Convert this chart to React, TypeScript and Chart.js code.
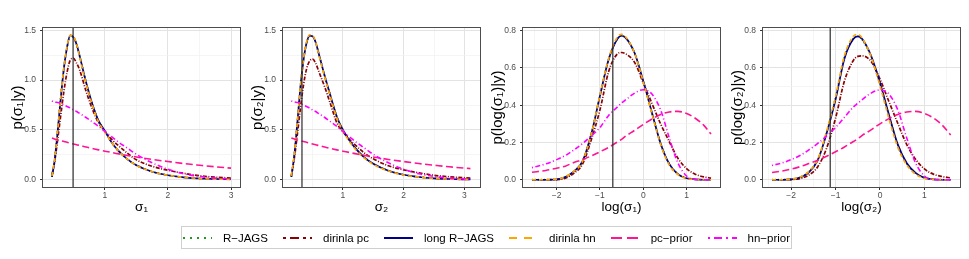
import React, { useEffect, useRef } from "react";
import { Chart, registerables } from "chart.js";
Chart.register(...registerables);

// ---------- data ----------
const SERIES_NAMES = ["R−JAGS", "dirinla pc", "long R−JAGS", "dirinla hn", "pc−prior", "hn−prior"];

// Panel 1: sigma_1
const P1_X = [0.16, 0.2, 0.25, 0.3, 0.35, 0.4, 0.45, 0.5, 0.55, 0.6, 0.7, 0.8, 0.9, 1.0, 1.1, 1.2, 1.35, 1.5, 1.75, 2.0, 2.25, 2.5, 2.75, 3.0];
const P1_RJAGS = [0.03, 0.18, 0.49, 0.83, 1.12, 1.33, 1.44, 1.43, 1.36, 1.24, 0.98, 0.76, 0.59, 0.49, 0.38, 0.3, 0.21, 0.145, 0.08, 0.046, 0.025, 0.013, 0.008, 0.005];
const P1_DIRPC = [0.05, 0.17, 0.4, 0.65, 0.89, 1.08, 1.2, 1.22, 1.17, 1.1, 0.89, 0.71, 0.57, 0.48, 0.41, 0.35, 0.27, 0.2, 0.135, 0.095, 0.065, 0.04, 0.026, 0.017];
const P1_LONG = [0.03, 0.18, 0.48, 0.82, 1.12, 1.33, 1.45, 1.43, 1.36, 1.24, 0.98, 0.76, 0.59, 0.49, 0.38, 0.3, 0.21, 0.145, 0.08, 0.045, 0.025, 0.013, 0.008, 0.005];
const P1_DIRHN = [0.04, 0.19, 0.49, 0.83, 1.13, 1.34, 1.45, 1.44, 1.36, 1.23, 0.97, 0.75, 0.58, 0.48, 0.38, 0.3, 0.21, 0.145, 0.08, 0.045, 0.025, 0.013, 0.007, 0.004];
const P1_PC = [0.42, 0.41, 0.4, 0.392, 0.384, 0.376, 0.367, 0.359, 0.351, 0.344, 0.328, 0.314, 0.3, 0.287, 0.275, 0.262, 0.245, 0.229, 0.204, 0.183, 0.163, 0.146, 0.13, 0.117];
const P1_HN = [0.79, 0.78, 0.775, 0.765, 0.75, 0.735, 0.72, 0.7, 0.685, 0.665, 0.625, 0.58, 0.535, 0.485, 0.435, 0.385, 0.32, 0.255, 0.17, 0.105, 0.06, 0.033, 0.017, 0.008];

// Panel 2: sigma_2
const P2_X = [0.15, 0.2, 0.25, 0.3, 0.35, 0.4, 0.45, 0.5, 0.55, 0.6, 0.7, 0.8, 0.9, 1.0, 1.1, 1.2, 1.35, 1.5, 1.75, 2.0, 2.25, 2.5, 2.75, 3.1];
const P2_RJAGS = [0.03, 0.25, 0.58, 0.93, 1.2, 1.37, 1.44, 1.44, 1.38, 1.27, 1.04, 0.83, 0.63, 0.5, 0.4, 0.32, 0.225, 0.16, 0.09, 0.05, 0.028, 0.015, 0.008, 0.003];
const P2_DIRPC = [0.04, 0.22, 0.46, 0.72, 0.95, 1.11, 1.19, 1.21, 1.17, 1.09, 0.93, 0.75, 0.57, 0.48, 0.41, 0.35, 0.27, 0.21, 0.14, 0.1, 0.07, 0.045, 0.03, 0.017];
const P2_LONG = [0.03, 0.25, 0.58, 0.93, 1.2, 1.37, 1.445, 1.44, 1.38, 1.27, 1.04, 0.83, 0.63, 0.5, 0.4, 0.32, 0.225, 0.16, 0.09, 0.05, 0.028, 0.015, 0.008, 0.003];
const P2_DIRHN = [0.04, 0.26, 0.59, 0.94, 1.21, 1.38, 1.455, 1.45, 1.38, 1.26, 1.03, 0.82, 0.62, 0.49, 0.39, 0.31, 0.22, 0.155, 0.088, 0.048, 0.027, 0.014, 0.007, 0.003];
const P2_PC = [0.42, 0.41, 0.4, 0.392, 0.384, 0.376, 0.367, 0.359, 0.351, 0.344, 0.328, 0.314, 0.3, 0.287, 0.275, 0.262, 0.245, 0.229, 0.204, 0.183, 0.163, 0.146, 0.13, 0.112];
const P2_HN = [0.79, 0.78, 0.775, 0.765, 0.75, 0.735, 0.72, 0.7, 0.685, 0.665, 0.625, 0.58, 0.535, 0.485, 0.435, 0.385, 0.32, 0.255, 0.17, 0.105, 0.06, 0.033, 0.017, 0.006];

// Panel 3: log(sigma_1)
const P3_X = [-2.57, -2.25, -2.0, -1.8, -1.6, -1.4, -1.2, -1.0, -0.8, -0.6, -0.5, -0.4, -0.2, 0.0, 0.2, 0.4, 0.6, 0.8, 1.0, 1.2, 1.4, 1.565];
const P3_RJAGS = [0, 0, 0.002, 0.015, 0.045, 0.1, 0.245, 0.45, 0.645, 0.755, 0.772, 0.76, 0.68, 0.53, 0.36, 0.195, 0.085, 0.03, 0.008, 0.002, 0, 0];
const P3_DIRPC = [0, 0, 0.001, 0.008, 0.035, 0.085, 0.215, 0.375, 0.58, 0.675, 0.683, 0.675, 0.63, 0.52, 0.41, 0.3, 0.205, 0.115, 0.06, 0.03, 0.015, 0.009];
const P3_LONG = [0, 0, 0.002, 0.015, 0.045, 0.1, 0.245, 0.45, 0.645, 0.755, 0.773, 0.76, 0.68, 0.53, 0.36, 0.195, 0.085, 0.03, 0.008, 0.002, 0, 0];
const P3_DIRHN = [0, 0, 0.003, 0.016, 0.046, 0.1, 0.245, 0.455, 0.65, 0.765, 0.78, 0.765, 0.68, 0.525, 0.355, 0.19, 0.08, 0.028, 0.007, 0.002, 0, 0];
const P3_PC = [0.04, 0.05, 0.062, 0.073, 0.093, 0.108, 0.128, 0.15, 0.174, 0.202, 0.217, 0.235, 0.265, 0.297, 0.326, 0.35, 0.364, 0.367, 0.356, 0.33, 0.292, 0.245];
const P3_HN = [0.065, 0.085, 0.108, 0.13, 0.16, 0.195, 0.235, 0.28, 0.345, 0.39, 0.412, 0.43, 0.465, 0.483, 0.46, 0.375, 0.225, 0.09, 0.02, 0.002, 0, 0];

// Panel 4: log(sigma_2)
const P4_X = [-2.43, -2.2, -2.0, -1.8, -1.6, -1.4, -1.2, -1.0, -0.8, -0.6, -0.5, -0.4, -0.2, 0.0, 0.2, 0.4, 0.6, 0.8, 1.0, 1.2, 1.4, 1.59];
const P4_RJAGS = [0, 0, 0.002, 0.013, 0.042, 0.108, 0.255, 0.44, 0.66, 0.76, 0.77, 0.75, 0.66, 0.515, 0.345, 0.188, 0.088, 0.036, 0.01, 0.002, 0, 0];
const P4_DIRPC = [0, 0, 0.001, 0.006, 0.025, 0.07, 0.17, 0.33, 0.53, 0.64, 0.662, 0.665, 0.635, 0.54, 0.42, 0.303, 0.19, 0.11, 0.058, 0.03, 0.017, 0.01];
const P4_LONG = [0, 0, 0.002, 0.012, 0.04, 0.105, 0.25, 0.43, 0.65, 0.755, 0.77, 0.755, 0.665, 0.52, 0.35, 0.19, 0.09, 0.037, 0.01, 0.002, 0, 0];
const P4_DIRHN = [0, 0, 0.003, 0.014, 0.045, 0.11, 0.26, 0.445, 0.665, 0.77, 0.78, 0.76, 0.66, 0.505, 0.33, 0.175, 0.08, 0.03, 0.008, 0.002, 0, 0];
const P4_PC = [0.039, 0.047, 0.057, 0.07, 0.087, 0.105, 0.126, 0.15, 0.176, 0.205, 0.22, 0.238, 0.268, 0.3, 0.328, 0.35, 0.364, 0.367, 0.356, 0.332, 0.293, 0.24];
const P4_HN = [0.077, 0.09, 0.108, 0.13, 0.16, 0.195, 0.235, 0.28, 0.335, 0.39, 0.41, 0.43, 0.465, 0.482, 0.46, 0.375, 0.225, 0.09, 0.02, 0.002, 0, 0];

// reference (vertical) lines
const VLINES = [0.495, 0.325, -0.703, -1.12];

// tick values
const SIGMA_X_MAJOR = [1, 2, 3];
const SIGMA_X_MINOR = [0.5, 1.5, 2.5];
const SIGMA_Y_MAJOR = [0, 0.5, 1.0, 1.5];
const SIGMA_Y_MINOR = [0.25, 0.75, 1.25];
const LOG_X_MAJOR = [-2, -1, 0, 1];
const LOG_X_MINOR = [-2.5, -1.5, -0.5, 0.5, 1.5];
const LOG_Y_MAJOR = [0, 0.2, 0.4, 0.6, 0.8];
const LOG_Y_MINOR = [0.1, 0.3, 0.5, 0.7];

// ---------- styles ----------
const FONT = '"Liberation Sans", Arial, sans-serif';
const STYLES = [
  { color: "#1f9a1f", width: 1.8, dash: [1, 2], legendDash: "2 5" },
  { color: "#8B0000", width: 1.7, dash: [4, 1.5, 1, 1.5], legendDash: "3 4 9 4" },
  { color: "#00008B", width: 1.7, dash: [], legendDash: "" },
  { color: "#FFA500", width: 1.7, dash: [4, 3], legendDash: "8 7" },
  { color: "#FF1493", width: 1.6, dash: [7, 3.5], legendDash: "11 5" },
  { color: "#FF00FF", width: 1.6, dash: [1, 2.5, 5, 2.5], legendDash: "2 4 8 4" },
];
const ORDERS = [6, 5, 4, 3, 2, 1];

const PANELS = [
  { left: 43, xs: P1_X, ys: [P1_RJAGS, P1_DIRPC, P1_LONG, P1_DIRHN, P1_PC, P1_HN], xMin: 0.018, xMax: 3.142, yMin: -0.0725, yMax: 1.5225, xMaj: SIGMA_X_MAJOR, xMin2: SIGMA_X_MINOR, yMaj: SIGMA_Y_MAJOR, yMin2: SIGMA_Y_MINOR, xTitle: "σ₁", yTitle: "p(σ₁|y)", vline: VLINES[0] },
  { left: 283, xs: P2_X, ys: [P2_RJAGS, P2_DIRPC, P2_LONG, P2_DIRHN, P2_PC, P2_HN], xMin: 0.0125, xMax: 3.2575, yMin: -0.0725, yMax: 1.5225, xMaj: SIGMA_X_MAJOR, xMin2: SIGMA_X_MINOR, yMaj: SIGMA_Y_MAJOR, yMin2: SIGMA_Y_MINOR, xTitle: "σ₂", yTitle: "p(σ₂|y)", vline: VLINES[1] },
  { left: 523, xs: P3_X, ys: [P3_RJAGS, P3_DIRPC, P3_LONG, P3_DIRHN, P3_PC, P3_HN], xMin: -2.777, xMax: 1.772, yMin: -0.039, yMax: 0.8145, xMaj: LOG_X_MAJOR, xMin2: LOG_X_MINOR, yMaj: LOG_Y_MAJOR, yMin2: LOG_Y_MINOR, xTitle: "log(σ₁)", yTitle: "p(log(σ₁)|y)", vline: VLINES[2] },
  { left: 763, xs: P4_X, ys: [P4_RJAGS, P4_DIRPC, P4_LONG, P4_DIRHN, P4_PC, P4_HN], xMin: -2.632, xMax: 1.8, yMin: -0.039, yMax: 0.8145, xMaj: LOG_X_MAJOR, xMin2: LOG_X_MINOR, yMaj: LOG_Y_MAJOR, yMin2: LOG_Y_MINOR, xTitle: "log(σ₂)", yTitle: "p(log(σ₂)|y)", vline: VLINES[3] },
];

const AXIS_W = 43;
const PLOT_W = 197;
const RIGHT_PAD = 3;
const CANVAS_H = 215;
const PLOT_TOP = 28;
const PLOT_BOTTOM = 187;

const isIn = (arr: number[], v: number) => arr.some((a) => Math.abs(a - v) < 1e-9);
const fmtX = (v: number) => (v < 0 ? "−" + Math.abs(v) : String(v));

const framePlugin = {
  id: "frame",
  afterDraw(chart: any) {
    const { ctx, chartArea: a } = chart;
    ctx.save();
    ctx.strokeStyle = "#4d4d4d";
    ctx.lineWidth = 1;
    ctx.strokeRect(a.left - 0.5, a.top - 0.5, a.right - a.left + 1, a.bottom - a.top + 1);
    ctx.restore();
  },
};

function Panel({ spec }: { spec: any }) {
  const ref = useRef<HTMLCanvasElement | null>(null);
  useEffect(() => {
    if (!ref.current) return;
    const datasets: any[] = spec.ys.map((ys: number[], i: number) => ({
      label: SERIES_NAMES[i],
      data: spec.xs.map((x: number, j: number) => ({ x, y: ys[j] })),
      borderColor: STYLES[i].color,
      borderWidth: STYLES[i].width,
      borderDash: STYLES[i].dash,
      pointRadius: 0,
      fill: false,
      cubicInterpolationMode: "monotone",
      order: ORDERS[i],
    }));
    datasets.push({
      label: "reference",
      data: [
        { x: spec.vline, y: -10 },
        { x: spec.vline, y: 10 },
      ],
      borderColor: "#2b2b2b",
      borderWidth: 1.2,
      pointRadius: 0,
      fill: false,
      order: 0,
    });
    const xAll = [...spec.xMin2, ...spec.xMaj].sort((a: number, b: number) => a - b);
    const yAll = [...spec.yMin2, ...spec.yMaj].sort((a: number, b: number) => a - b);
    const gridColor = (maj: number[]) => (c: any) => (c.tick && isIn(maj, c.tick.value) ? "#e3e3e3" : "#f0f0f0");
    const gridW = (maj: number[]) => (c: any) => (c.tick && isIn(maj, c.tick.value) ? 1 : 0.7);
    const tickCol = (maj: number[]) => (c: any) => (c.tick && isIn(maj, c.tick.value) ? "#333333" : "rgba(0,0,0,0)");
    const chart = new Chart(ref.current, {
      type: "line",
      data: { datasets },
      plugins: [framePlugin],
      options: {
        animation: false,
        responsive: false,
        events: [],
        layout: { padding: { top: PLOT_TOP, right: RIGHT_PAD, left: 0, bottom: 0 } },
        plugins: { legend: { display: false }, tooltip: { enabled: false } },
        scales: {
          x: {
            type: "linear",
            min: spec.xMin,
            max: spec.xMax,
            afterBuildTicks: (s: any) => {
              s.ticks = xAll.map((v: number) => ({ value: v }));
            },
            afterFit: (s: any) => {
              s.height = CANVAS_H - PLOT_BOTTOM;
            },
            ticks: {
              autoSkip: false,
              maxRotation: 0,
              padding: 1,
              color: "#4d4d4d",
              font: { family: FONT, size: 8.5 },
              callback: (v: any) => (isIn(spec.xMaj, Number(v)) ? fmtX(Number(v)) : ""),
            },
            grid: { color: gridColor(spec.xMaj), lineWidth: gridW(spec.xMaj), tickLength: 3, tickColor: tickCol(spec.xMaj), tickWidth: 1 },
            border: { display: false },
            title: { display: true, text: spec.xTitle, color: "#000", font: { family: FONT, size: 13.5 }, padding: { top: 0, bottom: 0 } },
          },
          y: {
            type: "linear",
            min: spec.yMin,
            max: spec.yMax,
            afterBuildTicks: (s: any) => {
              s.ticks = yAll.map((v: number) => ({ value: v }));
            },
            afterFit: (s: any) => {
              s.width = AXIS_W;
            },
            ticks: {
              autoSkip: false,
              padding: 4,
              color: "#4d4d4d",
              font: { family: FONT, size: 8.5 },
              callback: (v: any) => (isIn(spec.yMaj, Number(v)) ? Number(v).toFixed(1) : ""),
            },
            grid: { color: gridColor(spec.yMaj), lineWidth: gridW(spec.yMaj), tickLength: 3, tickColor: tickCol(spec.yMaj), tickWidth: 1 },
            border: { display: false },
            title: { display: true, text: spec.yTitle, color: "#000", font: { family: FONT, size: 15 }, padding: { top: 8.5, bottom: 0 } },
          },
        },
      } as any,
    });
    return () => chart.destroy();
  }, [spec]);
  const w = AXIS_W + PLOT_W + RIGHT_PAD;
  return (
    <div style={{ position: "absolute", left: spec.left - AXIS_W, top: 0, width: w, height: CANVAS_H }}>
      <canvas ref={ref} width={w} height={CANVAS_H} style={{ width: w, height: CANVAS_H, display: "block" }} />
    </div>
  );
}

function Legend() {
  return (
    <div
      style={{
        position: "absolute",
        left: 181,
        top: 226,
        width: 611,
        height: 23,
        border: "1px solid #cfcfcf",
        boxSizing: "border-box",
        background: "#fff",
        display: "flex",
        alignItems: "center",
        justifyContent: "center",
        fontFamily: FONT,
        fontSize: 11.5,
        color: "#000",
        whiteSpace: "nowrap",
      }}
    >
      {SERIES_NAMES.map((name, i) => (
        <div key={name} style={{ display: "flex", alignItems: "center", marginLeft: i === 0 ? 0 : 15 }}>
          <svg width={29} height={6} style={{ display: "block" }}>
            <line
              x1={0}
              y1={3}
              x2={29}
              y2={3}
              stroke={STYLES[i].color}
              strokeWidth={2}
              strokeDasharray={STYLES[i].legendDash || undefined}
            />
          </svg>
          <span style={{ marginLeft: 11, lineHeight: "14px" }}>{name}</span>
        </div>
      ))}
    </div>
  );
}

export default function App() {
  return (
    <div style={{ position: "absolute", left: 0, top: 0, width: 969, height: 259, background: "#fff", overflow: "hidden" }}>
      {PANELS.map((p, i) => (
        <Panel key={i} spec={p} />
      ))}
      <Legend />
    </div>
  );
}
